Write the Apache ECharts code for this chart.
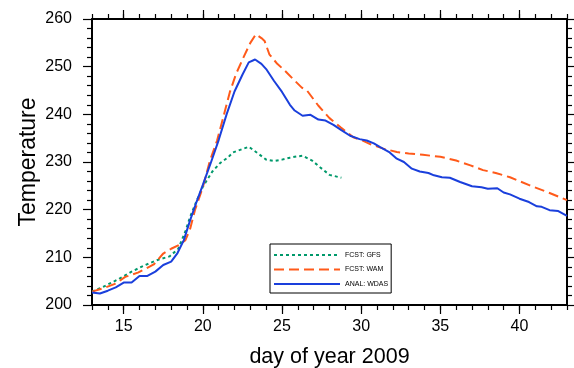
<!DOCTYPE html>
<html>
<head>
<meta charset="utf-8">
<script src="https://cdn.jsdelivr.net/npm/echarts@6/dist/echarts.min.js"></script>
<style>
html,body{margin:0;padding:0;background:#fff;}
#c{width:574px;height:368px;}
</style>
</head>
<body>
<div id="c"></div>
<script>
// ---- data ----
const xMajorTicks = [15, 20, 25, 30, 35, 40];
const yTicks = [200, 210, 220, 230, 240, 250, 260];

const gfsDays = [13.0, 13.7, 14.6, 15.5, 16.3, 17.1, 17.9, 18.45, 18.9, 19.2, 19.6, 20.0, 20.6, 21.1, 21.6, 21.9, 22.4, 22.9, 23.4, 24.0, 24.5, 25.0, 25.5, 26.0, 26.3, 26.9, 27.4, 28.0, 28.75];
const gfsVals = [202.8, 203.8, 205.3, 207.0, 208.3, 209.4, 210.2, 211.8, 215.5, 218.5, 221.8, 224.8, 228.0, 229.8, 231.0, 232.0, 232.6, 233.2, 232.0, 230.5, 230.2, 230.5, 230.9, 231.2, 231.3, 230.3, 228.9, 227.3, 226.7];

const wamDays = [13.0, 13.7, 14.5, 15.1, 15.9, 16.45, 16.9, 17.5, 18.0, 18.5, 18.9, 19.2, 19.5, 20.0, 20.45, 20.9, 21.3, 21.7, 22.1, 22.56, 23.0, 23.35, 23.7, 23.9, 24.2, 24.7, 25.2, 25.7, 26.25, 26.6, 27.3, 28.0, 28.7, 29.5, 30.1, 30.6, 31.4, 32.25, 33.0, 33.9, 35.0, 36.0, 36.9, 37.7, 38.5, 39.4, 40.65, 41.9, 43.0];
const wamVals = [202.8, 203.5, 204.5, 205.9, 206.8, 207.7, 208.5, 210.8, 211.8, 212.6, 213.6, 216.0, 219.9, 224.7, 230.3, 234.5, 239.5, 244.6, 248.5, 251.9, 255.0, 256.8, 256.0, 255.4, 252.6, 250.6, 249.1, 247.4, 245.6, 244.9, 241.8, 239.2, 237.3, 235.2, 234.5, 233.7, 232.8, 232.1, 231.8, 231.5, 231.1, 230.3, 229.3, 228.3, 227.7, 226.8, 225.1, 223.5, 222.0];

const wdasDays = [13.0, 13.5, 14.0, 14.5, 15.0, 15.5, 16.0, 16.5, 17.0, 17.5, 18.0, 18.4, 18.8, 19.2, 19.6, 20.0, 20.5, 21.0, 21.5, 22.0, 22.5, 22.9, 23.3, 23.7, 24.0, 24.5, 25.0, 25.5, 25.8, 26.3, 26.8, 27.3, 27.75, 28.25, 28.75, 29.3, 29.9, 30.35, 30.8, 31.2, 31.8, 32.25, 32.7, 33.2, 33.7, 34.25, 34.6, 35.1, 35.6, 36.25, 37.0, 37.6, 38.0, 38.6, 39.0, 39.4, 40.0, 40.6, 41.1, 41.4, 41.9, 42.45, 43.0];
const wdasVals = [202.6, 202.4, 203.0, 203.7, 204.7, 204.7, 206.1, 206.1, 207.0, 208.4, 209.1, 210.9, 213.6, 217.8, 221.6, 225.2, 229.8, 234.6, 240.0, 244.8, 248.3, 250.9, 251.5, 250.6, 249.5, 247.0, 244.7, 242.0, 240.8, 239.7, 239.9, 238.9, 238.7, 237.8, 236.7, 235.5, 234.8, 234.5, 233.9, 233.1, 232.0, 230.7, 230.0, 228.6, 228.0, 227.7, 227.2, 226.8, 226.7, 225.8, 224.9, 224.7, 224.4, 224.5, 223.6, 223.2, 222.3, 221.6, 220.7, 220.6, 219.9, 219.7, 218.7];

const seriesNames = ['FCST: GFS', 'FCST: WAM', 'ANAL: WDAS'];

function pairs(xs, ys) { return xs.map((x, i) => [x, ys[i]]); }

const FONT = 'Liberation Sans';
const AXC = '#000';

const chart = echarts.init(document.getElementById('c'), null, { renderer: 'canvas' });

function xAx(pos, major, labels) {
  const a = {
    type: 'value', min: 13, max: 43, position: pos, gridIndex: 0,
    splitLine: { show: false },
    axisLine: { show: true, onZero: false, lineStyle: { color: AXC, width: 2 } },
    axisTick: { show: true, inside: false, length: major ? 9 : 5, lineStyle: { color: AXC, width: 1.2 } },
    axisLabel: { show: false }
  };
  if (major) {
    a.axisTick.customValues = xMajorTicks;
    a.axisLine.show = false;
    if (labels) {
      a.axisLabel = { show: true, customValues: xMajorTicks, fontFamily: FONT, fontSize: 16, color: '#000', margin: 14 };
      a.name = 'day of year 2009';
      a.nameLocation = 'middle';
      a.nameGap = 41;
      a.nameTextStyle = { fontFamily: FONT, fontSize: 21.5, color: '#000' };
    }
  } else {
    a.interval = 1;
  }
  return a;
}
function yAx(pos, labels) {
  return {
    type: 'value', min: yTicks[0], max: yTicks[yTicks.length - 1], interval: 10, position: pos,
    splitLine: { show: false },
    axisLine: { show: true, onZero: false, lineStyle: { color: AXC, width: 2 } },
    axisTick: { show: true, inside: false, length: 9, lineStyle: { color: AXC, width: 1.2 } },
    minorTick: { show: true, splitNumber: 5, length: 5, lineStyle: { color: AXC, width: 1.2 } },
    axisLabel: labels ? { show: true, fontFamily: FONT, fontSize: 16, color: '#000', margin: 20 } : { show: false },
    name: labels ? 'Temperature' : '',
    nameLocation: 'middle',
    nameGap: 52,
    nameMoveOverlap: false,
    nameRotate: 90,
    nameTextStyle: { fontFamily: FONT, fontSize: 23, color: '#000' }
  };
}

const option = {
  backgroundColor: '#fff',
  animation: false,
  grid: { left: 92, right: 7, top: 19, bottom: 63, containLabel: false, outerBoundsMode: 'none' },
  xAxis: [xAx('bottom', false, false), xAx('bottom', true, true), xAx('top', false, false), xAx('top', true, false)],
  yAxis: [yAx('left', true), yAx('right', false)],
  legend: {
    show: true, orient: 'vertical', left: 270, top: 244,
    data: seriesNames,
    itemWidth: 66, itemHeight: 10, itemGap: 6.5,
    padding: [7, 3, 5, 3],
    borderColor: '#000', borderWidth: 1,
    itemStyle: { color: 'transparent', borderColor: 'transparent', borderWidth: 0, opacity: 0 },
    textStyle: { fontFamily: FONT, fontSize: 7, color: '#000' }
  },
  series: [
    { name: seriesNames[0], type: 'line', xAxisIndex: 0, yAxisIndex: 0, data: pairs(gfsDays, gfsVals), showSymbol: false, symbol: 'none',
      lineStyle: { color: '#00996b', width: 2, type: [3, 3] }, itemStyle: { color: '#00996b' } },
    { name: seriesNames[1], type: 'line', xAxisIndex: 0, yAxisIndex: 0, data: pairs(wamDays, wamVals), showSymbol: false, symbol: 'none',
      lineStyle: { color: '#ff5a1a', width: 2, type: [10, 5] }, itemStyle: { color: '#ff5a1a' } },
    { name: seriesNames[2], type: 'line', xAxisIndex: 0, yAxisIndex: 0, data: pairs(wdasDays, wdasVals), showSymbol: false, symbol: 'none',
      lineStyle: { color: '#1a3fdc', width: 2, type: 'solid' }, itemStyle: { color: '#1a3fdc' } }
  ]
};
chart.setOption(option);
</script>
</body>
</html>
